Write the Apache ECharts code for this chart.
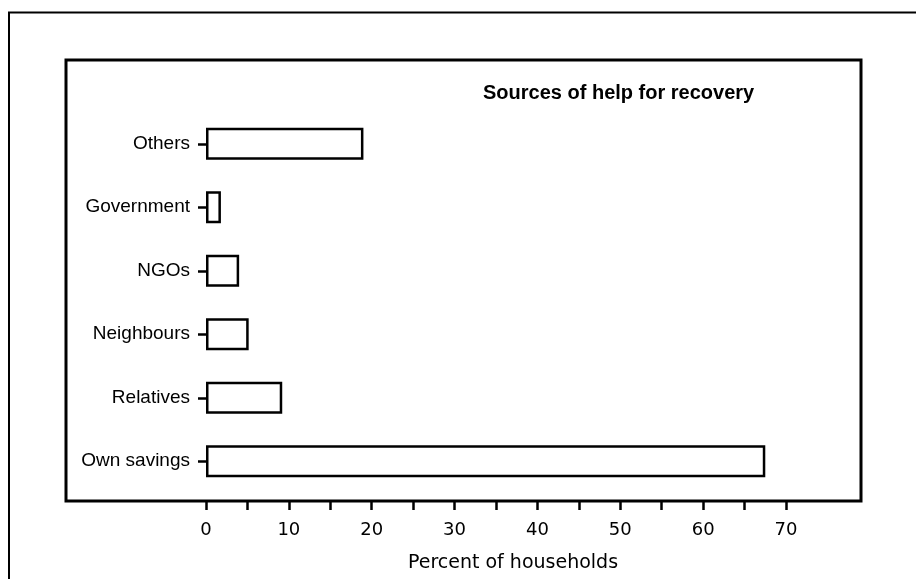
<!DOCTYPE html>
<html>
<head>
<meta charset="utf-8">
<script src="https://cdn.jsdelivr.net/npm/echarts@6/dist/echarts.min.js"></script>
<style>
html,body{margin:0;padding:0;background:#fff;}
#chart{width:916px;height:579px;}
</style>
</head>
<body>
<div id="chart"></div>
<script>
// Data (bottom to top as drawn by the category axis)
const categories = ['Own savings', 'Relatives', 'Neighbours', 'NGOs', 'Government', 'Others'];
const percentValues = [67.5, 9.2, 5.15, 4.0, 1.8, 19.0];
const tickLabels = [0, 10, 20, 30, 40, 50, 60, 70];
const chartTitle = 'Sources of help for recovery';
const axisTitle = 'Percent of households';

const chart = echarts.init(document.getElementById('chart'));
const catFont = '"Liberation Sans Narrow", "Arial Narrow", "Liberation Sans", sans-serif';
const option = {
  backgroundColor: '#ffffff',
  animation: false,
  title: {
    text: chartTitle,
    left: 483,
    top: 83,
    padding: 0,
    textStyle: { fontFamily: '"Liberation Sans", sans-serif', fontSize: 20, fontWeight: 'bold', color: '#000' }
  },
  graphic: [
    { type: 'rect', shape: { x: 9, y: 12.5, width: 2000, height: 2000 }, style: { fill: 'none', stroke: '#000', lineWidth: 2 }, silent: true },
    { type: 'rect', shape: { x: 66, y: 60, width: 795, height: 441 }, style: { fill: 'none', stroke: '#000', lineWidth: 3 }, silent: true }
  ],
  grid: { left: 206, right: 130, top: 112, bottom: 86, containLabel: false },
  xAxis: {
    type: 'value',
    min: 0,
    max: 70,
    interval: 5,
    offset: 8,
    axisLine: { show: false },
    axisTick: { show: true, length: 9, lineStyle: { color: '#000', width: 2.5 } },
    splitLine: { show: false },
    axisLabel: {
      margin: 20,
      color: '#000',
      fontFamily: '"DejaVu Sans", sans-serif',
      fontSize: 18,
      formatter: function (v) { return tickLabels.indexOf(v) >= 0 ? String(v) : ''; }
    },
    name: axisTitle,
    nameLocation: 'middle',
    nameGap: 53,
    nameTextStyle: { color: '#000', fontFamily: '"DejaVu Sans", sans-serif', fontSize: 19, padding: [0, 0, 0, 34] }
  },
  yAxis: {
    type: 'category',
    data: categories,
    axisLine: { show: false },
    axisTick: { show: true, alignWithLabel: true, length: 8, lineStyle: { color: '#000', width: 2.5 } },
    axisLabel: { margin: 16, color: '#000', fontFamily: catFont, fontSize: 19 }
  },
  series: [{
    type: 'bar',
    data: percentValues,
    barWidth: 32,
    itemStyle: { color: '#ffffff', borderColor: '#000', borderWidth: 2.5 }
  }]
};
chart.setOption(option);
</script>
</body>
</html>
